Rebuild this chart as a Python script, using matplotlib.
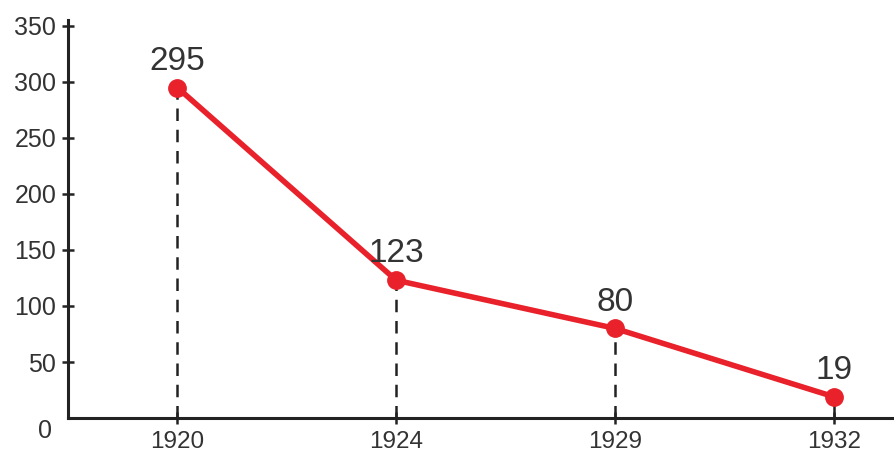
import matplotlib
matplotlib.use("Agg")
import matplotlib.pyplot as plt

years = ["1920", "1924", "1929", "1932"]
values = [295, 123, 80, 19]
yticks = [50, 100, 150, 200, 250, 300, 350]

plt.rcParams['font.family'] = ['Liberation Sans', 'DejaVu Sans']

fig = plt.figure(figsize=(8.95, 4.57), dpi=100)
ax = fig.add_axes([68/895, 1-418/457, 1-68/895, 397.6/457])

x = list(range(len(years)))
for xi, v in zip(x, values):
    ax.plot([xi, xi], [0, v], color='#222222', lw=1.8, ls=(0, (5, 3.5)), zorder=1)
ax.plot(x, values, color='#e8212b', lw=4, marker='o', ms=12.5, zorder=3)
for xi, v in zip(x, values):
    ax.annotate(str(v), (xi, v), xytext=(0, 19), textcoords='offset points',
                ha='center', va='center', fontsize=24, color='#333333')

ax.set_xlim(-0.5, 3.28)
ax.set_ylim(0, 355)
ax.set_xticks(x)
ax.set_xticklabels(years, fontsize=17.5, color='#333333')
ax.set_yticks(yticks)
ax.set_yticklabels([str(t) for t in yticks], fontsize=18, color='#333333')
ax.annotate("0", (0, 0), xycoords=('axes fraction', 'data'), xytext=(-11.5, -9),
            textcoords='offset points', ha='right', va='center', fontsize=18, color='#333333')

for s in ['top', 'right']:
    ax.spines[s].set_visible(False)
for s in ['left', 'bottom']:
    ax.spines[s].set_linewidth(2.2)
    ax.spines[s].set_color('#222222')
ax.tick_params(axis='y', direction='inout', length=9, width=1.8, color='#222222', pad=4)
ax.tick_params(axis='x', direction='inout', length=9, width=1.8, color='#222222', pad=5)

fig.savefig("out.png", dpi=100)
